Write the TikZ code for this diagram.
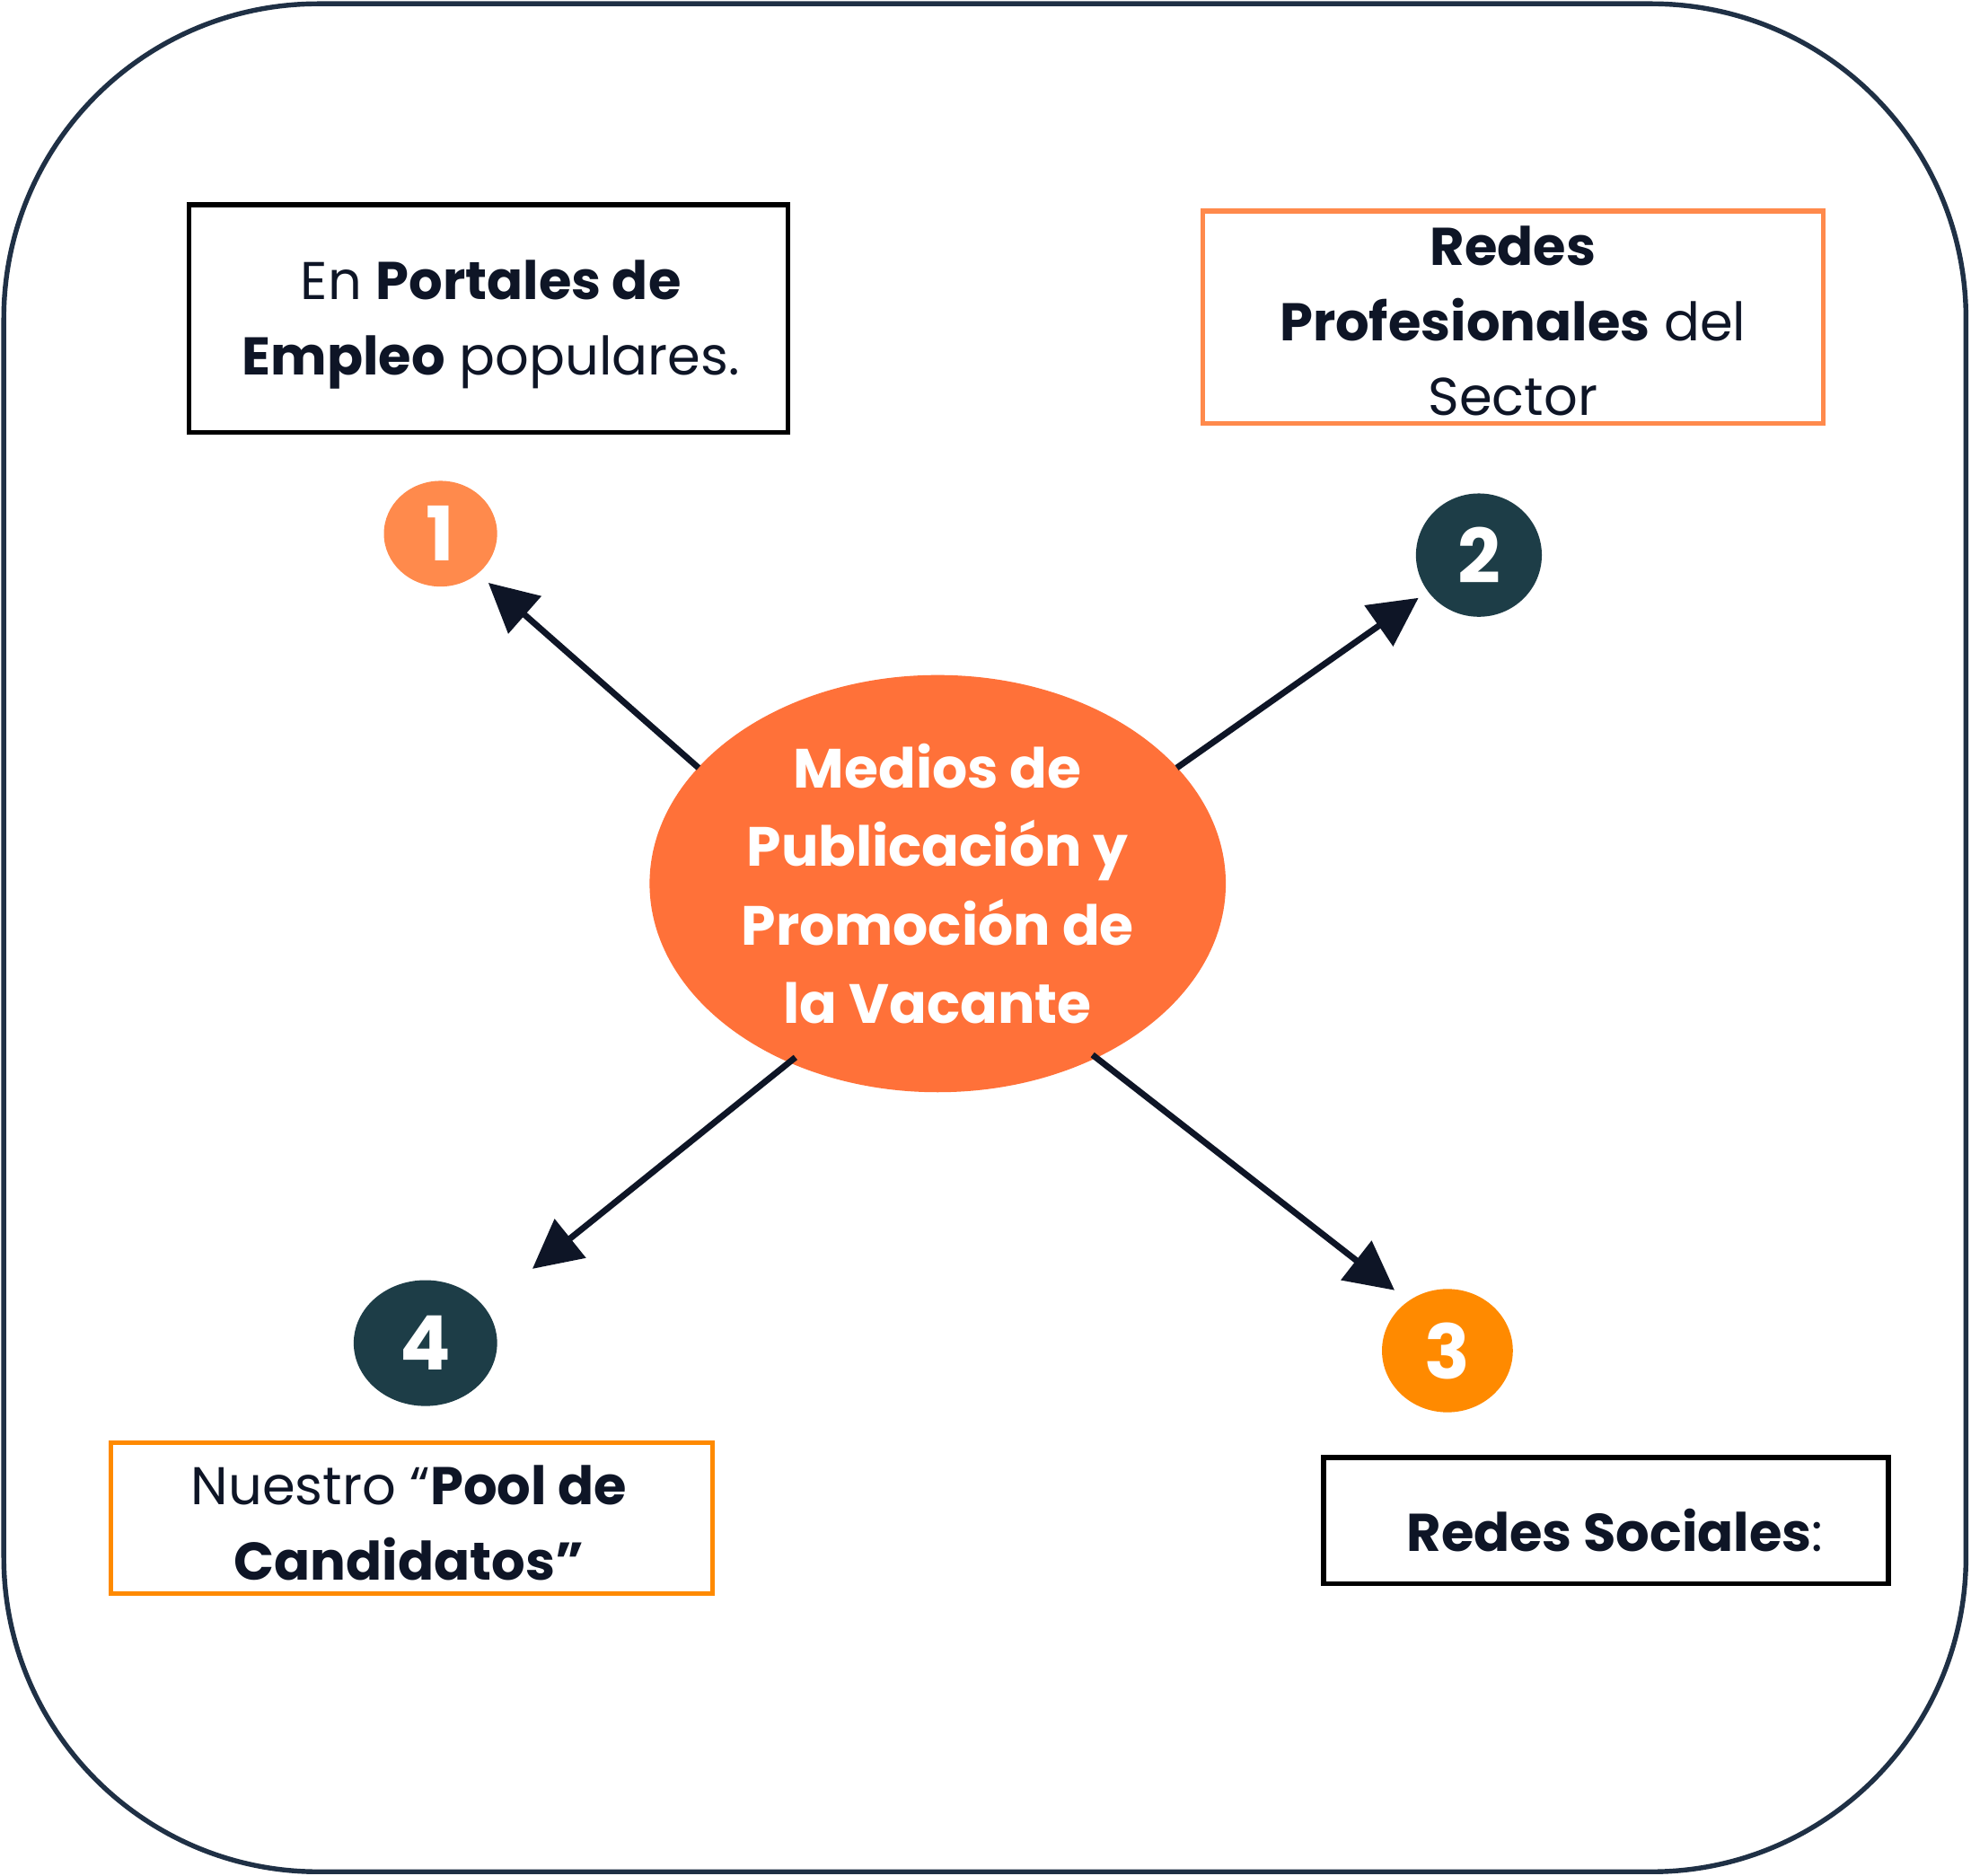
\documentclass[tikz,border=0pt]{standalone}
\usepackage{fontspec}
\setmainfont{Poppins}
\usetikzlibrary{arrows.meta,shapes.geometric}
\definecolor{navy}{HTML}{1F3045}
\definecolor{ink}{HTML}{0E1526}
\definecolor{orA}{HTML}{FF8A4C}
\definecolor{orB}{HTML}{FF7139}
\definecolor{orC}{HTML}{FF8A00}
\definecolor{teal}{HTML}{1D3D47}
\begin{document}
\begin{tikzpicture}[x=0.02cm,y=-0.02cm,
  txt/.style={font=\fontsize{24}{34}\selectfont,text=ink,align=center},
  box/.style={draw,line width=2.2pt,fill=white,inner sep=0pt},
  num/.style={ellipse,inner sep=0pt,text=white,font=\fontsize{34}{34}\selectfont\bfseries},
  arr/.style={draw=ink,line width=2.8pt,-{Triangle[length=22pt,width=22pt]}}]
\useasboundingbox (0,0) rectangle (1566,1490);
\draw[navy,line width=2.2pt,rounded corners=5cm,fill=white] (3,3) rectangle (1562,1487);
\node[box,draw=black,minimum width=9.52cm,minimum height=3.62cm] (b1) at (388,253) {};
\node[txt] (t1) at (390,258) {En \textbf{Portales de}\\\textbf{Empleo} populares.};
\node[box,draw=orA,minimum width=9.86cm,minimum height=3.38cm] (b2) at (1202,252) {};
\node[txt] (t2) at (1202,255) {\textbf{Redes}\\\textbf{Profesionales} del\\Sector};
\node[box,draw=orC,minimum width=9.56cm,minimum height=2.4cm] (b4) at (327,1206) {};
\node[txt] (t4) at (325,1210) {Nuestro “\textbf{Pool de}\\\textbf{Candidatos"}};
\node[box,draw=black,minimum width=8.98cm,minimum height=2.0cm] (b3) at (1276,1208) {};
\node[txt] (t3) at (1283,1216) {\textbf{Redes Sociales}:};
\node[num,fill=orA,minimum width=1.8cm,minimum height=1.68cm] (n1) at (350,424) {1};
\node[num,fill=teal,minimum width=2.0cm,minimum height=1.96cm] (n2) at (1175,441) {2};
\node[num,fill=orC,minimum width=2.08cm,minimum height=1.96cm] (n3) at (1150,1073) {3};
\node[num,fill=teal,minimum width=2.28cm,minimum height=2.0cm] (n4) at (338,1067) {4};
\node[ellipse,fill=orB,minimum width=8.08cm,minimum height=6.6cm,text=white,align=center,
  font=\fontsize{25}{35.5}\selectfont\bfseries] (c) at (745,702) {Medios de\\Publicación y\\Promoción de\\la Vacante};
\coordinate (s1) at (555,610); \coordinate (e1) at (388,463);
\coordinate (s2) at (935,610); \coordinate (e2) at (1127,475);
\coordinate (s4) at (632,840); \coordinate (e4) at (423,1008);
\coordinate (s3) at (868,838); \coordinate (e3) at (1108,1025);
\draw[arr] (s1) -- (e1);
\draw[arr] (s2) -- (e2);
\draw[arr] (s4) -- (e4);
\draw[arr] (s3) -- (e3);
\end{tikzpicture}
\end{document}
